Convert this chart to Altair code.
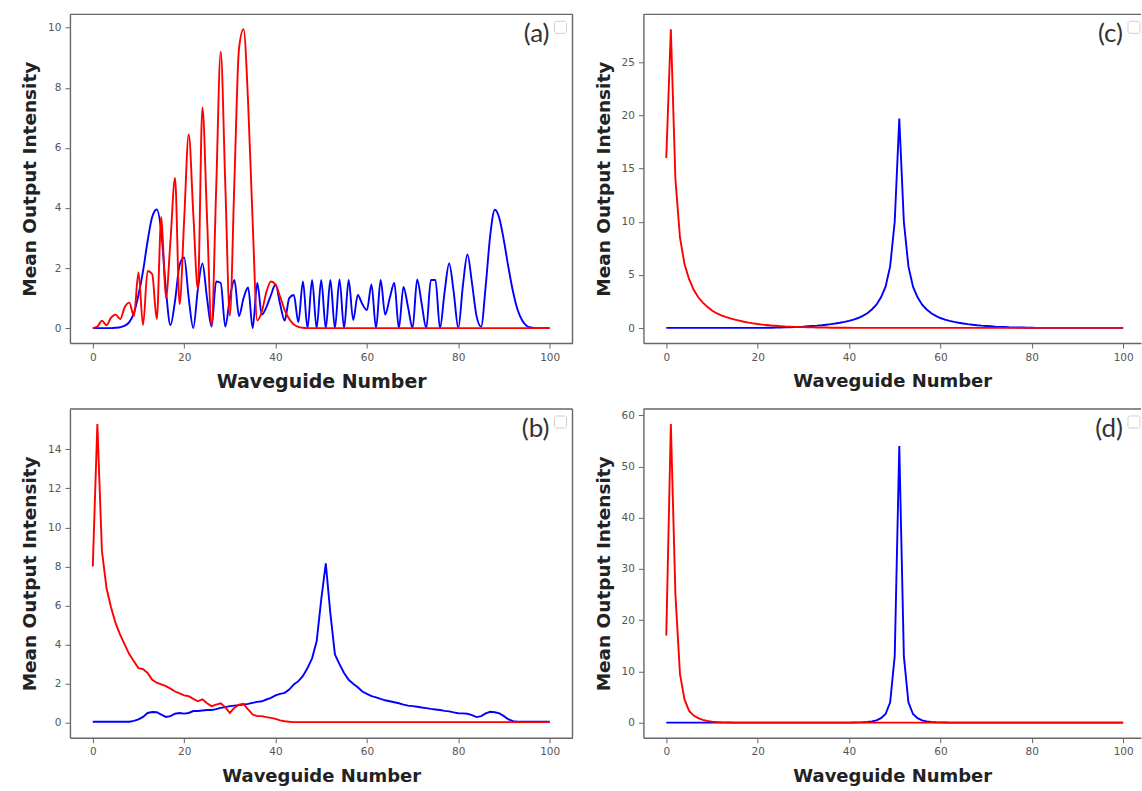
import altair as alt
import pandas as pd

N = list(range(101))
X_TICKS = [0, 20, 40, 60, 80, 100]

a_red = [0.0, 0.05, 0.25, 0.1, 0.35, 0.45, 0.3, 0.7, 0.85, 0.4,
         1.85, 0.1, 1.9, 1.8, 0.3, 3.7, 1.0, 2.9, 5.0, 0.8,
         3.6, 6.45, 3.8, 1.3, 7.35, 3.7, 0.1, 4.6, 9.2, 4.8,
         0.42, 4.9, 9.3, 9.95, 7.5, 3.5, 0.25, 0.55, 1.2, 1.55,
         1.45, 1.05, 0.6, 0.3, 0.12, 0.04, 0.01, 0.0, 0.0, 0.0,
         0.0, 0.0, 0.0, 0.0, 0.0, 0.0, 0.0, 0.0, 0.0, 0.0,
         0.0, 0.0, 0.0, 0.0, 0.0, 0.0, 0.0, 0.0, 0.0, 0.0,
         0.0, 0.0, 0.0, 0.0, 0.0, 0.0, 0.0, 0.0, 0.0, 0.0,
         0.0, 0.0, 0.0, 0.0, 0.0, 0.0, 0.0, 0.0, 0.0, 0.0,
         0.0, 0.0, 0.0, 0.0, 0.0, 0.0, 0.0, 0.0, 0.0, 0.0,
         0.0]
a_blue = [0.0, 0.0, 0.0, 0.0, 0.0, 0.01, 0.03, 0.08, 0.2, 0.5,
          1.1, 1.9, 2.9, 3.7, 3.95, 3.2, 1.3, 0.1, 0.9, 2.1,
          2.35, 1.0, 0.0, 1.3, 2.15, 1.0, 0.05, 1.55, 1.5, 0.05,
          1.0, 1.6, 0.4, 1.0, 1.35, 0.0, 1.5, 0.45, 0.7, 1.1,
          1.45, 0.8, 0.25, 1.0, 1.1, 0.2, 1.55, 0.0, 1.6, 0.0,
          1.6, 0.0, 1.6, 0.0, 1.62, 0.0, 1.6, 0.27, 1.1, 0.8,
          0.6, 1.45, 0.0, 1.6, 0.45, 1.0, 1.5, 0.0, 1.37, 0.7,
          0.0, 1.62, 0.8, 0.0, 1.6, 1.6, 0.0, 1.2, 2.15, 1.2,
          0.0, 1.4, 2.45, 1.5, 0.4, 0.05, 1.4, 3.1, 3.94, 3.65,
          2.9, 2.0, 1.2, 0.6, 0.25, 0.07, 0.02, 0.0, 0.0, 0.0,
          0.0]

b_red = [8.0, 15.3, 8.8, 6.9, 5.9, 5.1, 4.5, 4.0, 3.5, 3.15,
         2.8, 2.75, 2.55, 2.2, 2.05, 1.96, 1.87, 1.75, 1.6, 1.5,
         1.4, 1.36, 1.22, 1.1, 1.2, 1.0, 0.85, 0.93, 1.0, 0.8,
         0.5, 0.77, 0.93, 0.97, 0.68, 0.42, 0.34, 0.34, 0.29, 0.25,
         0.2, 0.12, 0.08, 0.05, 0.03, 0.03, 0.03, 0.03, 0.03, 0.03,
         0.03, 0.03, 0.03, 0.03, 0.03, 0.03, 0.03, 0.03, 0.03, 0.03,
         0.03, 0.03, 0.03, 0.03, 0.03, 0.03, 0.03, 0.03, 0.03, 0.03,
         0.03, 0.03, 0.03, 0.03, 0.03, 0.03, 0.03, 0.03, 0.03, 0.03,
         0.03, 0.03, 0.03, 0.03, 0.03, 0.03, 0.03, 0.03, 0.03, 0.03,
         0.03, 0.03, 0.03, 0.03, 0.03, 0.03, 0.03, 0.03, 0.03, 0.03,
         0.03]
b_blue = [0.05, 0.05, 0.05, 0.05, 0.05, 0.05, 0.05, 0.05, 0.05, 0.1,
          0.17, 0.3, 0.5, 0.55, 0.54, 0.42, 0.3, 0.34, 0.46, 0.5,
          0.47, 0.5, 0.6, 0.6, 0.63, 0.65, 0.65, 0.7, 0.76, 0.8,
          0.85, 0.88, 0.9, 0.93, 0.97, 1.02, 1.07, 1.1, 1.19, 1.27,
          1.4, 1.48, 1.53, 1.7, 1.96, 2.13, 2.4, 2.8, 3.3, 4.17,
          6.3, 8.16, 5.6, 3.5, 3.0, 2.55, 2.2, 2.0, 1.82, 1.6,
          1.48, 1.36, 1.3, 1.22, 1.15, 1.1, 1.05, 1.0, 0.93, 0.88,
          0.85, 0.82, 0.78, 0.75, 0.71, 0.68, 0.65, 0.61, 0.58, 0.53,
          0.49, 0.48, 0.46, 0.39, 0.29, 0.34, 0.48, 0.56, 0.54, 0.48,
          0.34, 0.17, 0.08, 0.05, 0.05, 0.05, 0.05, 0.05, 0.05, 0.05,
          0.05]

c_red = [16.0, 28.1, 14.0, 8.5, 6.0, 4.6, 3.6, 2.9, 2.4, 2.0,
         1.65, 1.4, 1.2, 1.05, 0.92, 0.8, 0.7, 0.6, 0.52, 0.45,
         0.38, 0.33, 0.29, 0.25, 0.22, 0.19, 0.16, 0.14, 0.12, 0.1,
         0.09, 0.08, 0.07, 0.06, 0.05, 0.05, 0.04, 0.04, 0.03, 0.03,
         0.03, 0.02, 0.02, 0.02, 0.02, 0.02, 0.02, 0.02, 0.02, 0.02,
         0.02, 0.02, 0.02, 0.02, 0.02, 0.02, 0.02, 0.02, 0.02, 0.02,
         0.02, 0.02, 0.02, 0.02, 0.02, 0.02, 0.02, 0.02, 0.02, 0.02,
         0.02, 0.02, 0.02, 0.02, 0.02, 0.02, 0.02, 0.02, 0.02, 0.02,
         0.02, 0.02, 0.02, 0.02, 0.02, 0.02, 0.02, 0.02, 0.02, 0.02,
         0.02, 0.02, 0.02, 0.02, 0.02, 0.02, 0.02, 0.02, 0.02, 0.02,
         0.02]
c_blue = [0.02, 0.02, 0.02, 0.02, 0.02, 0.02, 0.02, 0.02, 0.02, 0.02,
          0.02, 0.02, 0.02, 0.02, 0.02, 0.02, 0.02, 0.02, 0.02, 0.02,
          0.02, 0.02, 0.03, 0.04, 0.05, 0.06, 0.07, 0.08, 0.1, 0.12,
          0.14, 0.17, 0.2, 0.23, 0.27, 0.32, 0.37, 0.43, 0.5, 0.58,
          0.68, 0.8, 0.95, 1.15, 1.4, 1.75, 2.2, 2.9, 3.9, 5.8,
          10.0, 19.7, 10.0, 5.8, 3.9, 2.9, 2.2, 1.75, 1.4, 1.15,
          0.95, 0.8, 0.68, 0.58, 0.5, 0.43, 0.37, 0.32, 0.27, 0.23,
          0.2, 0.17, 0.14, 0.12, 0.1, 0.08, 0.07, 0.06, 0.05, 0.04,
          0.03, 0.02, 0.02, 0.02, 0.02, 0.02, 0.02, 0.02, 0.02, 0.02,
          0.02, 0.02, 0.02, 0.02, 0.02, 0.02, 0.02, 0.02, 0.02, 0.02,
          0.02]

d_red = [17.0, 58.3, 25.0, 9.5, 4.5, 2.3, 1.4, 0.9, 0.55, 0.35,
         0.22, 0.15, 0.1, 0.07, 0.05, 0.03, 0.03, 0.03, 0.03, 0.03,
         0.03, 0.03, 0.03, 0.03, 0.03, 0.03, 0.03, 0.03, 0.03, 0.03,
         0.03, 0.03, 0.03, 0.03, 0.03, 0.03, 0.03, 0.03, 0.03, 0.03,
         0.03, 0.03, 0.03, 0.03, 0.03, 0.03, 0.03, 0.03, 0.03, 0.03,
         0.03, 0.03, 0.03, 0.03, 0.03, 0.03, 0.03, 0.03, 0.03, 0.03,
         0.03, 0.03, 0.03, 0.03, 0.03, 0.03, 0.03, 0.03, 0.03, 0.03,
         0.03, 0.03, 0.03, 0.03, 0.03, 0.03, 0.03, 0.03, 0.03, 0.03,
         0.03, 0.03, 0.03, 0.03, 0.03, 0.03, 0.03, 0.03, 0.03, 0.03,
         0.03, 0.03, 0.03, 0.03, 0.03, 0.03, 0.03, 0.03, 0.03, 0.03,
         0.03]
d_blue = [0.03, 0.03, 0.03, 0.03, 0.03, 0.03, 0.03, 0.03, 0.03, 0.03,
          0.03, 0.03, 0.03, 0.03, 0.03, 0.03, 0.03, 0.03, 0.03, 0.03,
          0.03, 0.03, 0.03, 0.03, 0.03, 0.03, 0.03, 0.03, 0.03, 0.03,
          0.03, 0.03, 0.03, 0.03, 0.03, 0.03, 0.03, 0.03, 0.03, 0.03,
          0.03, 0.05, 0.07, 0.1, 0.15, 0.25, 0.45, 0.9, 1.7, 4.0,
          13.0, 54.0, 13.0, 4.0, 1.7, 0.9, 0.45, 0.25, 0.15, 0.1,
          0.07, 0.05, 0.03, 0.03, 0.03, 0.03, 0.03, 0.03, 0.03, 0.03,
          0.03, 0.03, 0.03, 0.03, 0.03, 0.03, 0.03, 0.03, 0.03, 0.03,
          0.03, 0.03, 0.03, 0.03, 0.03, 0.03, 0.03, 0.03, 0.03, 0.03,
          0.03, 0.03, 0.03, 0.03, 0.03, 0.03, 0.03, 0.03, 0.03, 0.03,
          0.03]

FRAME = "#666666"
PANEL_H = 329
one = pd.DataFrame({"k": [0]})


def panel(red, blue, ydom, yticks, tag, w, xmax, right_frame, xtitle_size, interp):
    df = pd.DataFrame({"n": N, "red": red, "blue": blue})
    xs = alt.Scale(domain=[-5, xmax], nice=False, zero=False)
    ys = alt.Scale(domain=ydom, nice=False, zero=False)
    xax = alt.Axis(values=X_TICKS, title="Waveguide Number", titleFontSize=xtitle_size)
    yax = alt.Axis(values=yticks, title="Mean Output Intensity")
    base = alt.Chart(df)
    blue_line = base.mark_line(color="#0000ff", strokeWidth=1.9, interpolate=interp).encode(
        x=alt.X("n:Q", scale=xs, axis=xax),
        y=alt.Y("blue:Q", scale=ys, axis=yax),
    )
    red_line = base.mark_line(color="#ff0000", strokeWidth=1.9, interpolate=interp).encode(
        x=alt.X("n:Q", scale=xs, axis=xax),
        y=alt.Y("red:Q", scale=ys, axis=yax),
    )
    layers = [blue_line, red_line]
    layers.append(alt.Chart(one).mark_rule(color=FRAME, strokeWidth=1.4).encode(
        x=alt.value(0), x2=alt.value(w), y=alt.value(0)))
    if right_frame:
        layers.append(alt.Chart(one).mark_rule(color=FRAME, strokeWidth=1.4).encode(
            x=alt.value(w), y=alt.value(0), y2=alt.value(PANEL_H)))
    layers.append(alt.Chart(one).mark_text(
        text=tag, align="right", baseline="alphabetic", font="Lato",
        fontSize=26, color="#333333").encode(x=alt.value(480), y=alt.value(28)))
    layers.append(alt.Chart(one).mark_rect(
        fill="white", stroke="#d0d0d0", strokeWidth=1, cornerRadius=2).encode(
        x=alt.value(485), x2=alt.value(497), y=alt.value(7), y2=alt.value(19)))
    return alt.layer(*layers).properties(width=w, height=PANEL_H)


W_L = 503
W_R = 498
XMAX_R = -5 + W_R / (W_L / 110.0)

pa = panel(a_red, a_blue, [-0.4975, 10.4475], [0, 2, 4, 6, 8, 10], "(a)", W_L, 105, True, 19, "monotone")
pb = panel(b_red, b_blue, [-0.765, 16.065], [0, 2, 4, 6, 8, 10, 12, 14], "(b)", W_L, 105, True, 18, "linear")
pc = panel(c_red, c_blue, [-1.405, 29.505], [0, 5, 10, 15, 20, 25], "(c)", W_R, XMAX_R, False, 18, "linear")
pd_ = panel(d_red, d_blue, [-2.915, 61.215], [0, 10, 20, 30, 40, 50, 60], "(d)", W_R, XMAX_R, False, 18, "linear")

chart = alt.concat(
    pa, pc, pb, pd_, columns=2,
    spacing={"row": 66, "column": 71}, bounds="flush",
).properties(
    padding={"left": 20, "top": 13, "right": 0, "bottom": 0}
).configure_view(
    stroke=None
).configure_axis(
    grid=False, domainColor=FRAME, domainWidth=1.4, tickColor=FRAME,
    tickSize=5, tickWidth=1, labelFont="DejaVu Sans", labelFontSize=10.5,
    labelColor="#555555", labelPadding=4, titleFont="DejaVu Sans",
    titleFontWeight="bold", titleFontSize=18.5, titleColor="#222222",
).configure_axisX(
    titlePadding=10
).configure_axisY(
    titlePadding=8
)

chart.save("out.html", embed_options={"renderer": "svg", "actions": False})
